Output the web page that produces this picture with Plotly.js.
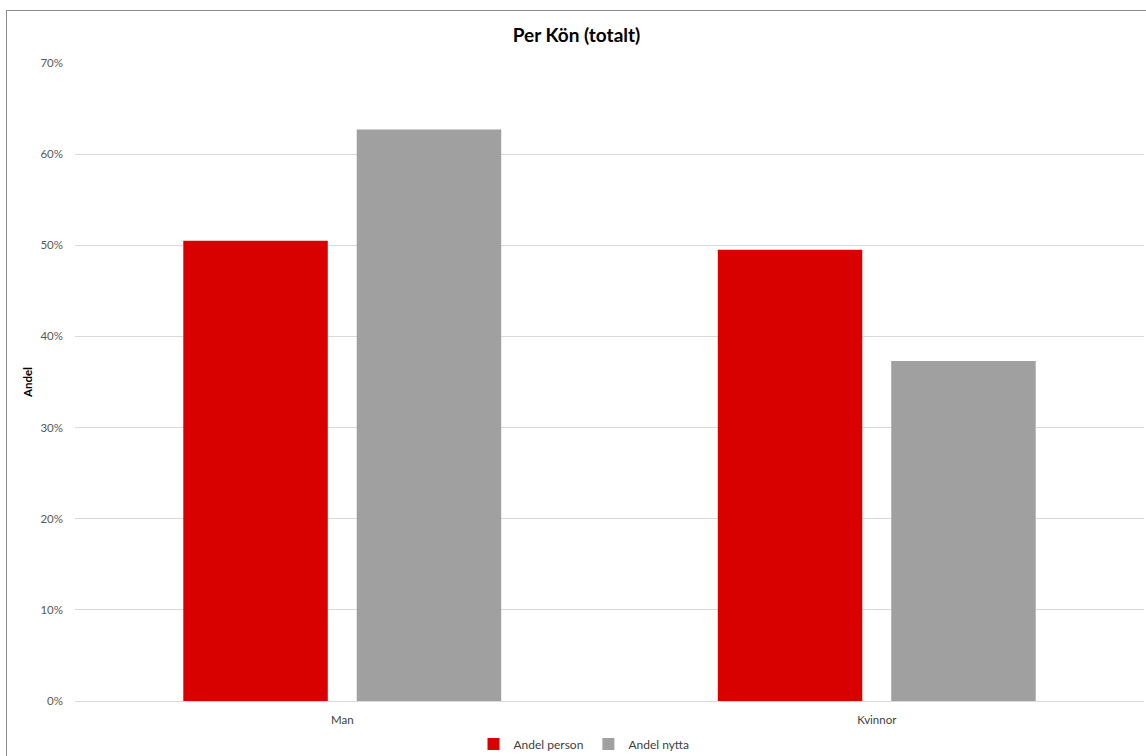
<!DOCTYPE html>
<html>
<head>
<meta charset="utf-8">
<script src="https://cdn.plot.ly/plotly-3.0.1.min.js"></script>
<style>
  html, body { margin: 0; padding: 0; background: #fff; overflow: hidden; }
  #chart { position: absolute; left: 6px; top: 10px; width: 1139px; height: 746px;
           border-left: 1px solid #8c8c8c; border-top: 1px solid #8c8c8c; }
</style>
</head>
<body>
<div id="chart"></div>
<script>
const categories = ["Man", "Kvinnor"];
const andelPerson = [0.505, 0.495];
const andelNytta = [0.627, 0.373];
const seriesNames = ["Andel person", "Andel nytta"];

const fontFam = "Lato, 'Open Sans', sans-serif";

const data = [
  { type: "bar", x: categories, y: andelPerson, name: seriesNames[0],
    marker: { color: "#d90000" }, hoverinfo: "none" },
  { type: "bar", x: categories, y: andelNytta, name: seriesNames[1],
    marker: { color: "#a0a0a0" }, hoverinfo: "none" }
];

const layout = {
  width: 1139, height: 746,
  margin: { l: 68, r: 2, t: 52, b: 56 },
  paper_bgcolor: "#fff", plot_bgcolor: "#fff",
  font: { family: fontFam, size: 12, color: "#595959" },
  title: { text: "<b>Per Kön (totalt)</b>", font: { family: fontFam, size: 19, color: "#000" },
           x: 0.5, xanchor: "center", xref: "container", y: 0.968, yref: "container", yanchor: "middle" },
  barmode: "group", bargap: 0.351, bargroupgap: 0.167,
  xaxis: { showgrid: false, showline: false, ticks: "", tickfont: { size: 11.5, color: "#404040" },
           zeroline: false, ticklabelstandoff: 10, automargin: false },
  yaxis: { range: [0, 0.7], dtick: 0.1, tickformat: ".0%", gridcolor: "#d9d9d9", gridwidth: 1,
           zeroline: true, zerolinecolor: "#d9d9d9", zerolinewidth: 1, ticks: "", ticklen: 0,
           tickfont: { size: 11.5, color: "#595959" }, ticklabelstandoff: 11, automargin: false,
           title: { text: "<b>Andel</b>", font: { size: 11.5, color: "#000" }, standoff: 5 } },
  showlegend: true,
  legend: { orientation: "h", x: 0.5066, xanchor: "center", xref: "container",
            y: 0.0174, yanchor: "middle", yref: "container",
            font: { size: 12, color: "#404040" }, itemwidth: 30, tracegroupgap: 0,
            traceorder: "normal" }
};

Plotly.newPlot("chart", data, layout, { displayModeBar: false, staticPlot: true });
</script>
</body>
</html>
